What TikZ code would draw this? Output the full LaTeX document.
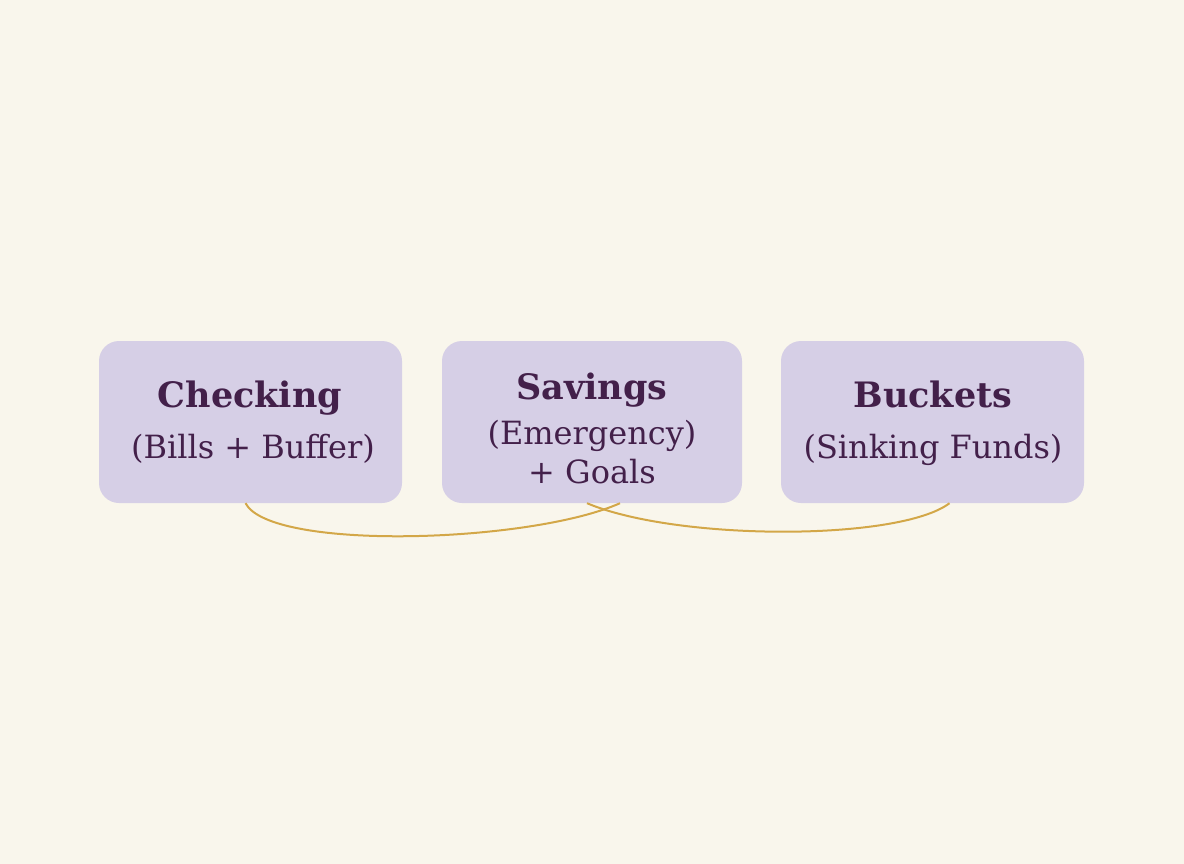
\documentclass[tikz,border=0pt]{standalone}
\usepackage{fontspec}
\setmainfont{DejaVu Serif}
\definecolor{bg}{HTML}{F9F6EC}
\definecolor{boxfill}{HTML}{D6CFE6}
\definecolor{ink}{HTML}{43204A}
\definecolor{gold}{HTML}{D3A748}
\tikzset{
  acct/.style={draw=none, fill=boxfill, rounded corners=20pt, minimum width=303pt, minimum height=162pt, inner sep=0pt},
  ttl/.style={anchor=base, inner sep=0pt, text=ink, font=\fontsize{35}{40}\selectfont\bfseries},
  sub/.style={anchor=base, inner sep=0pt, text=ink, font=\fontsize{32}{36}\selectfont},
  link/.style={draw=gold, line width=2pt}
}
\begin{document}
\begin{tikzpicture}[x=1pt,y=-1pt]
\fill[bg] (0,0) rectangle (1184,864);
\useasboundingbox (0,0) rectangle (1184,864);
\node[acct] (chk) at (250.5,422) {};
\node[acct, minimum width=300pt] (sav) at (592,422) {};
\node[acct] (bkt) at (932.5,422) {};
\node[ttl] (chk1) at (250,407) {Checking};
\node[sub] (chk2) at (253,458) {(Bills + Buffer)};
\node[ttl] (sav1) at (592,399) {Savings};
\node[sub] (sav2) at (592,444) {(Emergency)};
\node[sub] (sav3) at (592,483) {+ Goals};
\node[ttl] (bkt1) at (933,407) {Buckets};
\node[sub] (bkt2) at (933,458) {(Sinking Funds)};
\draw[link] ([xshift=-5pt]chk.south) .. controls +(25,48) and +(-90,40) .. ([xshift=28pt]sav.south);
\draw[link] ([xshift=-5pt]sav.south) .. controls +(90,38) and +(-50,38) .. ([xshift=17pt]bkt.south);
\end{tikzpicture}
\end{document}
